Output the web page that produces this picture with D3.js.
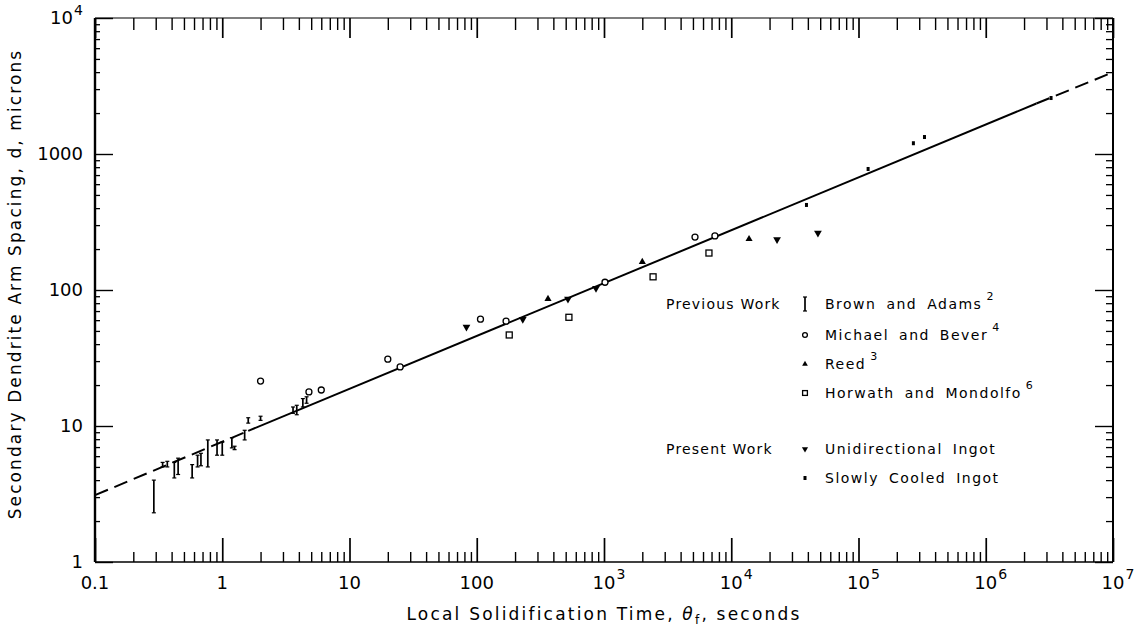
<!DOCTYPE html>
<html>
<head>
<meta charset="utf-8">
<script src="https://cdn.jsdelivr.net/npm/d3@7"></script>
<style>
body { margin: 0; background: #fff; }
text { font-family: "DejaVu Sans", sans-serif; fill: #000; }
</style>
</head>
<body>
<div id="chart"></div>
<script>
// Tick labels (base and exponent)
var xMajor = [0.1, 1, 10, 100, 1e3, 1e4, 1e5, 1e6, 1e7];
var xLabelBase = ["0.1", "1", "10", "100", "10", "10", "10", "10", "10"];
var xLabelExp = ["", "", "", "", "3", "4", "5", "6", "7"];
var yMajor = [1, 10, 100, 1000, 1e4];
var yLabelBase = ["1", "10", "100", "1000", "10"];
var yLabelExp = ["", "", "", "", "4"];

// Brown and Adams: spread bars (time, low, high)
var brownTheta = [0.29, 0.34, 0.37, 0.42, 0.45, 0.58, 0.64, 0.68, 0.77, 0.91, 1.0, 1.19, 1.25, 1.5, 1.6, 2.0, 3.6, 3.85, 4.3, 4.6];
var brownLow   = [2.3, 5.0, 5.0, 4.15, 4.4, 4.15, 5.0, 5.1, 5.0, 6.1, 6.1, 6.9, 6.7, 7.9, 10.5, 11.0, 12.4, 12.1, 13.8, 14.7];
var brownHigh  = [4.0, 5.4, 5.5, 5.4, 5.8, 5.2, 6.1, 6.3, 7.9, 7.9, 7.6, 8.2, 7.1, 9.3, 11.5, 11.8, 13.8, 14.2, 15.9, 16.4];

// Michael and Bever
var michaelTheta = [2.0, 4.8, 6.0, 20, 25, 107, 170, 1018, 5190, 7440];
var michaelD     = [21.4, 17.8, 18.4, 31, 27.2, 61, 59, 114, 245, 250];

// Reed
var reedTheta = [363, 2000, 13800];
var reedD     = [86, 161, 237];

// Horwath and Mondolfo
var horwathTheta = [180, 530, 2430, 6680];
var horwathD     = [46.7, 63, 125, 187];

// Present work, unidirectional ingot
var uniTheta = [83, 230, 521, 865, 22900, 48000];
var uniD     = [53.5, 61, 86, 103, 235, 262];

// Present work, slowly cooled ingot
var slowTheta = [39000, 119000, 270000, 330000, 3260000];
var slowD     = [422, 776, 1200, 1333, 2580];

// Fitted line break points; segment i runs from point i to i+1
var fitTheta = [0.1, 1.6, 2.5e6, 1e7];
var fitD     = [3.1, 9.2, 2350, 3990];
var fitDashed = [true, false, true];

// Legend
var legendGroups = ["Previous Work", "Present Work"];
var legendGroupRow = [0, 4];
var legendLabels = ["Brown and Adams", "Michael and Bever", "Reed", "Horwath and Mondolfo", "Unidirectional Ingot", "Slowly Cooled Ingot"];
var legendSup = ["2", "4", "3", "6", "", ""];
var legendKinds = ["bar", "circle", "tri", "square", "down", "slow"];
var legendRowY = [304, 335, 364, 393, 449, 478];

var width = 1139, height = 631;
var pLeft = 95, pRight = 1113, pTop = 18, pBottom = 562;

var svg = d3.select("#chart").append("svg")
	.attr("width", width)
	.attr("height", height);

var x = d3.scaleLog().domain([0.1, 1e7]).range([pLeft, pRight]);
var y = d3.scaleLog().domain([1, 1e4]).range([pBottom, pTop]);

function isDecade(v) {
	var l = Math.log10(v);
	return Math.abs(l - Math.round(l)) < 1e-9;
}
var xMinor = x.ticks().filter(function(v) { return !isDecade(v); });
var yMinor = y.ticks().filter(function(v) { return !isDecade(v); });

// draw a set of inward ticks with a d3 axis, no domain path, no labels
function tickSet(axisFn, scale, values, size, tx, ty, sw) {
	svg.append("g")
		.attr("transform", "translate(" + tx + "," + ty + ")")
		.call(axisFn(scale).tickValues(values).tickSize(-size).tickFormat(""))
		.call(function(g) { g.select(".domain").remove(); })
		.selectAll("line").attr("stroke", "#000").attr("stroke-width", sw);
}

tickSet(d3.axisBottom, x, xMinor, 10, 0, pBottom, 1.4);
tickSet(d3.axisBottom, x, xMajor, 24, 0, pBottom, 1.7);
tickSet(d3.axisTop, x, xMinor, 12, 0, pTop, 1.4);
tickSet(d3.axisTop, x, xMajor, 20, 0, pTop, 1.7);
tickSet(d3.axisLeft, y, yMinor, 5, pLeft, 0, 1.3);
tickSet(d3.axisLeft, y, yMajor, 18, pLeft, 0, 1.4);
tickSet(d3.axisRight, y, yMinor, 7, pRight, 0, 1.3);
tickSet(d3.axisRight, y, yMajor, 18, pRight, 0, 1.4);

// frame
svg.append("line").attr("x1", pLeft).attr("x2", pRight).attr("y1", pTop).attr("y2", pTop)
	.attr("stroke", "#000").attr("stroke-width", 1.2);
svg.append("line").attr("x1", pLeft).attr("x2", pRight).attr("y1", pBottom).attr("y2", pBottom)
	.attr("stroke", "#000").attr("stroke-width", 1.6);
svg.append("line").attr("x1", pLeft).attr("x2", pLeft).attr("y1", pTop).attr("y2", pBottom)
	.attr("stroke", "#000").attr("stroke-width", 2.4);
svg.append("line").attr("x1", pRight).attr("x2", pRight).attr("y1", pTop).attr("y2", pBottom)
	.attr("stroke", "#000").attr("stroke-width", 2);

// x tick labels
xMajor.forEach(function(v, i) {
	var t = svg.append("text")
		.attr("x", x(v)).attr("y", pBottom + 27)
		.attr("text-anchor", "middle")
		.style("font-size", "18px")
		.text(xLabelBase[i]);
	if (xLabelExp[i]) {
		var bb = t.node().getBBox();
		svg.append("text")
			.attr("x", bb.x + bb.width + 1).attr("y", pBottom + 17)
			.style("font-size", "14px")
			.text(xLabelExp[i]);
	}
});

// y tick labels
yMajor.forEach(function(v, i) {
	var ex = yLabelExp[i] ? 10 : 0;
	svg.append("text")
		.attr("x", pLeft - 12 - ex).attr("y", y(v) + 6)
		.attr("text-anchor", "end")
		.style("font-size", "18px")
		.text(yLabelBase[i]);
	if (ex) {
		svg.append("text")
			.attr("x", pLeft - 21).attr("y", y(v) - 3)
			.style("font-size", "14px")
			.text(yLabelExp[i]);
	}
});

// axis titles
svg.append("text")
	.attr("transform", "translate(21," + ((pTop + pBottom) / 2 - 6) + ") rotate(-90)")
	.attr("text-anchor", "middle")
	.style("font-size", "17px")
	.style("letter-spacing", "2.1px")
	.text("Secondary Dendrite Arm Spacing, d, microns");

var xt = svg.append("text")
	.attr("x", (pLeft + pRight) / 2).attr("y", pBottom + 58)
	.attr("text-anchor", "middle")
	.style("font-size", "17px")
	.style("letter-spacing", "2.2px");
xt.append("tspan").text("Local Solidification Time, ");
xt.append("tspan").style("font-style", "italic").text("\u03B8");
xt.append("tspan").attr("dy", 4).style("font-size", "12px").text("f");
xt.append("tspan").attr("dy", -4).text(", seconds");

// fitted line
var lineGen = d3.line()
	.x(function(d) { return x(d[0]); })
	.y(function(d) { return y(d[1]); });
fitDashed.forEach(function(dashed, i) {
	svg.append("path")
		.attr("d", lineGen([[fitTheta[i], fitD[i]], [fitTheta[i + 1], fitD[i + 1]]]))
		.attr("fill", "none")
		.attr("stroke", "#000")
		.attr("stroke-width", 2)
		.attr("stroke-dasharray", dashed ? "14,7" : null);
});

// marker drawing
function drawMarker(g, kind, cx, cy, s) {
	s = s || 1;
	if (kind == "circle") {
		g.append("circle").attr("cx", cx).attr("cy", cy).attr("r", 3 * s)
			.attr("fill", "#fff").attr("stroke", "#000").attr("stroke-width", 1.3);
	} else if (kind == "square") {
		g.append("rect").attr("x", cx - 3 * s).attr("y", cy - 3 * s).attr("width", 6 * s).attr("height", 6 * s)
			.attr("fill", "#fff").attr("stroke", "#000").attr("stroke-width", 1.3);
	} else if (kind == "tri") {
		g.append("path").attr("d", d3.symbol().type(d3.symbolTriangle).size(22 * s * s)())
			.attr("transform", "translate(" + cx + "," + cy + ")").attr("fill", "#000");
	} else if (kind == "down") {
		g.append("path").attr("d", d3.symbol().type(d3.symbolTriangle).size(26 * s * s)())
			.attr("transform", "translate(" + cx + "," + cy + ") rotate(180)").attr("fill", "#000");
	} else if (kind == "slow") {
		g.append("rect").attr("x", cx - 1.5).attr("y", cy - 2).attr("width", 3).attr("height", 4)
			.attr("fill", "#000");
	}
}

function drawBar(g, cx, y1, y2) {
	g.append("line").attr("x1", cx).attr("x2", cx).attr("y1", y1).attr("y2", y2)
		.attr("stroke", "#000").attr("stroke-width", 1.7);
	g.append("line").attr("x1", cx - 2).attr("x2", cx + 2).attr("y1", y1).attr("y2", y1)
		.attr("stroke", "#000").attr("stroke-width", 1.2);
	g.append("line").attr("x1", cx - 2).attr("x2", cx + 2).attr("y1", y2).attr("y2", y2)
		.attr("stroke", "#000").attr("stroke-width", 1.2);
}

var pts = svg.append("g").attr("class", "points");
brownTheta.forEach(function(t, i) { drawBar(pts, x(t), y(brownLow[i]), y(brownHigh[i])); });
michaelTheta.forEach(function(t, i) { drawMarker(pts, "circle", x(t), y(michaelD[i])); });
reedTheta.forEach(function(t, i) { drawMarker(pts, "tri", x(t), y(reedD[i])); });
horwathTheta.forEach(function(t, i) { drawMarker(pts, "square", x(t), y(horwathD[i])); });
uniTheta.forEach(function(t, i) { drawMarker(pts, "down", x(t), y(uniD[i])); });
slowTheta.forEach(function(t, i) { drawMarker(pts, "slow", x(t), y(slowD[i])); });

// legend
var lg = svg.append("g").attr("class", "legend");
legendGroups.forEach(function(name, i) {
	lg.append("text")
		.attr("x", 666).attr("y", legendRowY[legendGroupRow[i]] + 5)
		.style("font-size", "14px").style("letter-spacing", "1.2px")
		.text(name);
});
legendLabels.forEach(function(name, i) {
	var ry = legendRowY[i];
	if (legendKinds[i] == "bar") drawBar(lg, 805, ry - 7, ry + 7);
	else drawMarker(lg, legendKinds[i], 805, ry, 0.8);
	var t = lg.append("text")
		.attr("x", 825).attr("y", ry + 5)
		.style("font-size", "14px").style("letter-spacing", "1.5px").style("word-spacing", "4px")
		.text(name);
	if (legendSup[i]) {
		t.append("tspan").attr("dx", 4).attr("dy", -9).style("font-size", "11px").text(legendSup[i]);
	}
});
</script>
</body>
</html>
